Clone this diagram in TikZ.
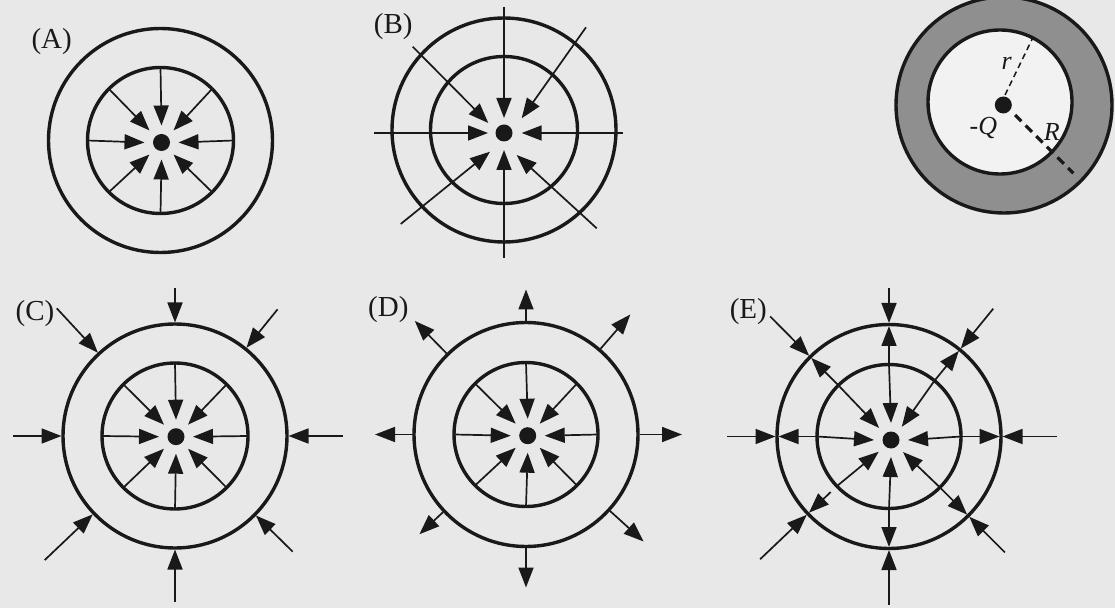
\documentclass[tikz,border=0pt]{standalone}
\usepackage{fontspec}
\setmainfont{Liberation Serif}
\usetikzlibrary{arrows.meta,calc}
\definecolor{bg}{gray}{0.91}
\definecolor{ink}{gray}{0.1}
\definecolor{ringgray}{gray}{0.56}
\definecolor{hole}{gray}{0.95}
\tikzset{
 ring/.style={draw=ink, line width=3.4pt},
 fld/.style={draw=ink, line width=1.7pt, -{Triangle[length=20pt,width=15pt]}},
 charge/.style={circle, fill=ink, inner sep=0pt, minimum size=17pt},
 lab/.style={font=\fontsize{29}{29}\selectfont, text=ink, inner sep=0pt},
 sym/.style={font=\fontsize{26}{26}\selectfont\itshape, text=ink, inner sep=0pt},
}
\begin{document}
\begin{tikzpicture}[x=1pt,y=1pt]
\useasboundingbox[fill=bg] (0,0) rectangle (1115,608);

% ---------- (A)
\coordinate (Ac) at (160.5,467.5);
\node[charge] (Aq) at (161.5,465.5) {};
\draw[ring] (Ac) circle[radius=112];
\draw[ring] (Ac) circle[radius=73];
\foreach \a in {0,45,...,315} \draw[fld] ($(Ac)+(\a:73)$) -- ($(Aq)+(\a:17)$);
\node[lab] (Alab) at (51.7,566.3) {(A)};

% ---------- (B)
\coordinate (Bc) at (504,478);
\node[charge] (Bq) at (504,475) {};
\draw[ring] (Bc) circle[radius=112];
\draw[ring] (Bc) circle[radius=73.5];
\foreach \sx/\sy/\tx/\ty in {0/126.3/0/15, 0/-125/0/-17, -130/0/-16/0, 119/0/17.7/0,
  -91.3/86.3/-15.7/10, 82/105.7/17.7/14.7, -103.3/-91/-14/-18.7, 92.7/-95.3/12.7/-22}
  \draw[fld] ($(Bq)+(\sx,\sy)$) -- ($(Bq)+(\tx,\ty)$);
\node[lab] (Blab) at (393.3,581.3) {(B)};

% ---------- shell with charge -Q
\coordinate (Tc) at (1004,503);
\coordinate (Ti) at (1000,506);
\fill[ringgray] (Tc) circle[radius=108];
\draw[ring] (Tc) circle[radius=108];
\draw[ring, fill=hole] (Ti) circle[radius=72];
\node[charge] (Tq) at (1003.3,503) {};
\draw[ink, line width=1.5pt, dash pattern=on 6pt off 4pt] ($(Tq)+(1.7,10)$) -- ($(Tq)+(30,68.3)$);
\draw[ink, line width=3.2pt, dash pattern=on 9pt off 6pt] ($(Tq)+(11.7,-10)$) -- ($(Tq)+(70,-68.3)$);
\node[sym] (rlab) at (1006.7,544.7) {r};
\node[sym] (Rlab) at (1051.7,476.3) {R};
\node[sym] (Qlab) at (983.3,479.7) {-Q};

% ---------- (C)
\coordinate (Cc) at (175,172);
\node[charge] (Cq) at (176,171.3) {};
\draw[ring] (Cc) circle[radius=112];
\draw[ring] (Cc) circle[radius=73];
\foreach \a in {0,45,...,315} \draw[fld] ($(Cc)+(\a:73)$) -- ($(Cq)+(\a:17)$);
\foreach \a/\r in {90/148, 51/163, 132.8/174, 180/162, 0/168, 223.6/180, 315.5/165, 270/166}
  \draw[fld] ($(Cc)+(\a:\r)$) -- ($(Cc)+(\a:113.5)$);
\node[lab] (Clab) at (35,294.7) {(C)};

% ---------- (D)
\coordinate (Dc) at (526,173.5);
\node[charge] (Dq) at (527.7,172.3) {};
\draw[ring] (Dc) circle[radius=112];
\draw[ring] (Dc) circle[radius=72];
\foreach \a in {0,45,...,315} \draw[fld] ($(Dc)+(\a:72)$) -- ($(Dq)+(\a:17)$);
\foreach \a/\r in {90/145, 49/159, 134.4/159, 180/151, 0/156, 223.1/146, 317.7/159, 270/153}
  \draw[fld] ($(Dc)+(\a:113.5)$) -- ($(Dc)+(\a:\r)$);
\node[lab] (Dlab) at (388.3,298) {(D)};

% ---------- (E)
\coordinate (Ec) at (889,171.5);
\node[charge] (Eq) at (891,168) {};
\draw[ring] (Ec) circle[radius=112];
\draw[ring] (Ec) circle[radius=72];
\foreach \a/\r/\m in {90/148/73, 50.8/165/73, 134.7/169/73, 180/162/73, 0/168/73, 223.6/178/80.5, 315/164/73, 270/168/73} {
  \draw[fld] ($(Ec)+(\a:\r)$) -- ($(Ec)+(\a:113.5)$);
  \draw[fld] ($(Ec)+(\a:\m)$) -- ($(Ec)+(\a:110.5)$);
  \draw[fld] ($(Ec)+(\a:72)$) -- ($(Eq)+(\a:17)$);
}
\node[lab] (Elab) at (748.3,296.3) {(E)};
\end{tikzpicture}
\end{document}
